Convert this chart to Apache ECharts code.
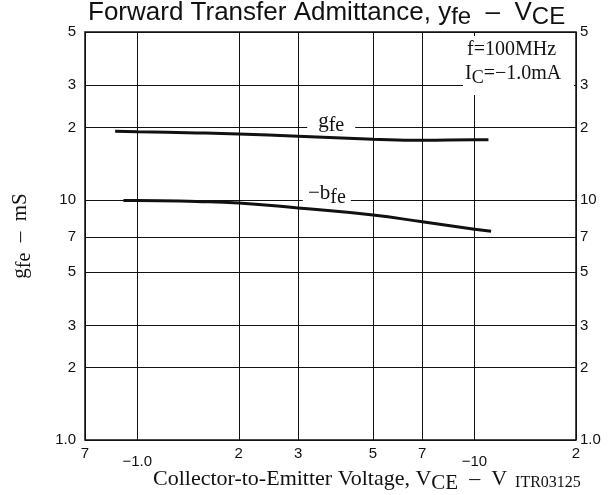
<!DOCTYPE html>
<html>
<head>
<meta charset="utf-8">
<title>Forward Transfer Admittance</title>
<script src="https://cdn.jsdelivr.net/npm/echarts@6.0.0/dist/echarts.min.js"></script>
<style>html,body{margin:0;padding:0;background:#fff;}</style>
</head>
<body>
<div id="main" style="width:611px;height:495px;"></div>
<script type="text/javascript">
// |VCE| in volts and admittance in mS
let vceG = [0.86, 1.0, 1.5, 2.0, 3.0, 5.0, 7.0, 10.0, 11.0];
let gfeVals = [19.3, 19.2, 19.0, 18.8, 18.4, 17.9, 17.7, 17.8, 17.8];
let vceB = [0.91, 1.0, 1.5, 2.0, 3.0, 5.0, 7.0, 10.0, 11.2];
let bfeVals = [9.95, 9.95, 9.85, 9.7, 9.25, 8.65, 8.1, 7.55, 7.4];

// ticks and what is printed at them
let xTicks = [0.7, 1, 2, 3, 5, 7, 10, 20];
let xTickLabels = ['7', '−1.0', '2', '3', '5', '7', '−10', '2'];
let yTicks = [1, 2, 3, 5, 7, 10, 20, 30, 50];
let yTickLabels = ['1.0', '2', '3', '5', '7', '10', '2', '3', '5'];

function pairs(xs, ys) {
    let out = [];
    for (let i = 0; i < xs.length; i++) out.push([xs[i], ys[i]]);
    return out;
}

function tickText(ticks, labels, lower) {
    return function (val) {
        for (let i = 0; i < ticks.length; i++) {
            if (Math.abs(val - ticks[i]) < 1e-6 * ticks[i]) {
                let s = labels[i];
                if (lower && s.charAt(0) === '−') return '{lo|' + s + '}';
                return s;
            }
        }
        return '';
    };
}

let serif = 'Liberation Serif';
let sans = 'Liberation Sans';
let ink = '#111';

let myChart = echarts.init(document.getElementById('main'));

let option = {
    animation: false,
    backgroundColor: '#fff',
    title: {
        text: '{m|Forward Transfer Admittance, y}{s|fe}{m|  –  V}{s|CE}',
        left: 88,
        top: 0,
        padding: 0,
        textStyle: {
            fontWeight: 'normal',
            rich: {
                m: { fontFamily: sans, fontWeight: 'normal', fontSize: 26, color: ink, lineHeight: 26, verticalAlign: 'top' },
                s: { fontFamily: sans, fontWeight: 'normal', fontSize: 24, color: ink, lineHeight: 34 }
            }
        }
    },
    grid: {
        left: 85,
        right: 35,
        top: 32,
        bottom: 55,
        outerBoundsMode: 'none',
        show: true,
        borderColor: ink,
        borderWidth: 1.5
    },
    xAxis: {
        type: 'log',
        logBase: 10,
        min: 0.7,
        max: 20,
        axisLine: { show: false },
        axisTick: { show: false, customValues: xTicks },
        axisLabel: {
            customValues: xTicks,
            formatter: tickText(xTicks, xTickLabels, true),
            fontFamily: sans,
            fontSize: 15,
            color: ink,
            margin: 6,
            hideOverlap: false,
            rich: {
                lo: { fontFamily: sans, fontSize: 15, color: ink, padding: [8, 0, 0, 0] }
            }
        },
        splitLine: { show: true, lineStyle: { color: ink, width: 1 } }
    },
    yAxis: [
        {
            type: 'log',
            logBase: 10,
            min: 1,
            max: 50,
            name: '{m|g}{s|fe}{m|  –  mS}',
            nameLocation: 'middle',
            nameRotate: 90,
            nameGap: 46,
            nameTextStyle: {
                rich: {
                    m: { fontFamily: serif, fontSize: 21, color: ink, lineHeight: 21, verticalAlign: 'top' },
                    s: { fontFamily: serif, fontSize: 20, color: ink, lineHeight: 29 }
                }
            },
            axisLine: { show: false },
            axisTick: { show: false, customValues: yTicks },
            axisLabel: {
                customValues: yTicks,
                formatter: tickText(yTicks, yTickLabels, false),
                fontFamily: sans,
                fontSize: 15,
                color: ink,
                margin: 9,
                hideOverlap: false
            },
            splitLine: { show: true, lineStyle: { color: ink, width: 1 } }
        },
        {
            type: 'log',
            logBase: 10,
            min: 1,
            max: 50,
            position: 'right',
            axisLine: { show: false },
            axisTick: { show: false, customValues: yTicks },
            axisLabel: {
                customValues: yTicks,
                formatter: tickText(yTicks, yTickLabels, false),
                fontFamily: sans,
                fontSize: 15,
                color: ink,
                margin: 4,
                hideOverlap: false
            },
            splitLine: { show: false }
        }
    ],
    graphic: [
        {
            type: 'rect',
            z: 50,
            shape: { x: 463, y: 36, width: 111, height: 59 },
            style: { fill: '#fff' }
        },
        {
            type: 'text',
            z: 51,
            left: 467,
            top: 40,
            style: { text: 'f=100MHz', fontFamily: serif, fontSize: 20, fill: ink }
        },
        {
            type: 'text',
            z: 51,
            left: 465,
            top: 64,
            style: {
                text: '{m|I}{s|C}{m|=−1.0mA}',
                rich: {
                    m: { fontFamily: serif, fontSize: 20, fill: ink, lineHeight: 20, verticalAlign: 'top' },
                    s: { fontFamily: serif, fontSize: 18, fill: ink, lineHeight: 28 }
                }
            }
        },
        {
            type: 'text',
            left: 153,
            top: 468,
            style: {
                text: '{m|Collector-to-Emitter Voltage, V}{s|CE}{m|  –  V}{t|  ITR03125}',
                rich: {
                    m: { fontFamily: serif, fontSize: 22, fill: ink, lineHeight: 22, verticalAlign: 'top' },
                    s: { fontFamily: serif, fontSize: 21, fill: ink, lineHeight: 30 },
                    t: { fontFamily: serif, fontSize: 16, fill: ink, lineHeight: 30 }
                }
            }
        }
    ],
    series: [
        {
            name: 'gfe',
            type: 'line',
            smooth: true,
            symbol: 'none',
            lineStyle: { color: ink, width: 3 },
            data: pairs(vceG, gfeVals),
            markPoint: {
                symbol: 'rect',
                symbolSize: [48, 6],
                itemStyle: { color: '#fff' },
                label: {
                    show: true,
                    offset: [0, -2],
                    formatter: '{m|g}{s|fe}',
                    rich: {
                        m: { fontFamily: serif, fontSize: 21, color: ink, lineHeight: 21, verticalAlign: 'top' },
                        s: { fontFamily: serif, fontSize: 20, color: ink, lineHeight: 29 }
                    }
                },
                data: [{ coord: [3.76, 20] }]
            }
        },
        {
            name: '-bfe',
            type: 'line',
            smooth: true,
            symbol: 'none',
            lineStyle: { color: ink, width: 3 },
            data: pairs(vceB, bfeVals),
            markPoint: {
                symbol: 'rect',
                symbolSize: [48, 6],
                itemStyle: { color: '#fff' },
                label: {
                    show: true,
                    offset: [0, -2],
                    formatter: '{m|−b}{s|fe}',
                    rich: {
                        m: { fontFamily: serif, fontSize: 21, color: ink, lineHeight: 21, verticalAlign: 'top' },
                        s: { fontFamily: serif, fontSize: 20, color: ink, lineHeight: 29 }
                    }
                },
                data: [{ coord: [3.65, 10] }]
            }
        }
    ]
};

myChart.setOption(option);
</script>
</body>
</html>
